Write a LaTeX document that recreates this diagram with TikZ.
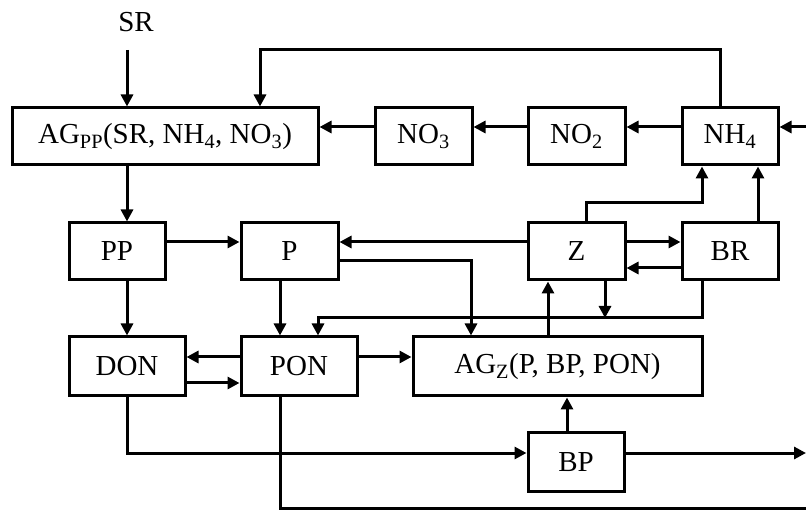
\documentclass[tikz,border=0pt]{standalone}
\usepackage{fontspec}
\setmainfont{Liberation Serif}
\usetikzlibrary{arrows.meta}
\begin{document}
\begin{tikzpicture}[x=1pt,y=-1pt,
  txt/.style={font=\fontsize{29}{32}\selectfont, inner sep=0pt},
  box/.style={draw, line width=3pt, minimum height=57pt, inner sep=0pt, font=\fontsize{29}{32}\selectfont},
  conn/.style={line width=3pt, -{Triangle[length=12pt,width=12pt]}},
  plain/.style={line width=3pt}]
\useasboundingbox (0,0) rectangle (806,510);
% nodes
\node[txt] (SR) at (136,22) {SR};
\node[box, minimum width=306pt] (AGPP) at (165,136.5) {AG\textsubscript{PP}(SR, NH\textsubscript{4}, NO\textsubscript{3})};
\node[box, minimum width=97pt] (NO3) at (423.5,136.5) {NO\textsubscript{3}};
\node[box, minimum width=97pt] (NO2) at (576.5,136.5) {NO\textsubscript{2}};
\node[box, minimum width=96pt] (NH4) at (730,136.5) {NH\textsubscript{4}};
\node[box, minimum width=96pt] (PP) at (117,251.5) {PP};
\node[box, minimum width=97pt] (P) at (289.5,251.5) {P};
\node[box, minimum width=97pt] (Z) at (576.5,251.5) {Z};
\node[box, minimum width=96pt] (BR) at (730,251.5) {BR};
\node[box, minimum width=116pt, minimum height=59pt] (DON) at (127,366.5) {DON};
\node[box, minimum width=116pt, minimum height=59pt] (PON) at (299,366.5) {PON};
\node[box, minimum width=289pt, minimum height=59pt] (AGZ) at (557.5,366.5) {AG\textsubscript{Z}(P, BP, PON)};
\node[box, minimum width=96pt, minimum height=58pt] (BP) at (576,462) {BP};
% helper coordinates
\coordinate (srin) at (127,50);
\coordinate (fbtop) at (720,50);
\coordinate (fbleft) at (260,50);
\coordinate (rin) at (806,127);
\coordinate (rout) at (806,453);
\coordinate (bend) at (806,508);
\coordinate (y127) at (0,127);
\coordinate (y203) at (0,203);
\coordinate (y242) at (0,242);
\coordinate (y261) at (0,261);
\coordinate (y268) at (0,268);
\coordinate (y318) at (0,318);
\coordinate (y357) at (0,357);
\coordinate (y383) at (0,383);
\coordinate (y453) at (0,453);
\coordinate (y508) at (0,508);
\coordinate (x127) at (127,0);
\coordinate (x280) at (280,0);
\coordinate (x318) at (318,0);
\coordinate (x471) at (471,0);
\coordinate (x548) at (548,0);
\coordinate (x567) at (567,0);
\coordinate (x586) at (586,0);
\coordinate (x605) at (605,0);
\coordinate (x702) at (702,0);
\coordinate (x758) at (758,0);
% connectors
\draw[conn] (srin) -- (AGPP.north -| srin);
\draw[conn] (NH4.north -| fbtop) -- (fbtop) -- (fbleft) -- (AGPP.north -| fbleft);
\draw[conn] (NO3.west |- y127) -- (AGPP.east |- y127);
\draw[conn] (NO2.west |- y127) -- (NO3.east |- y127);
\draw[conn] (NH4.west |- y127) -- (NO2.east |- y127);
\draw[conn] (rin) -- (NH4.east |- rin);
\draw[conn] (AGPP.south -| x127) -- (PP.north -| x127);
\draw[conn] (PP.east |- y242) -- (P.west |- y242);
\draw[conn] (Z.west |- y242) -- (P.east |- y242);
\draw[conn] (P.east |- y261) -- (x471 |- y261) -- (AGZ.north -| x471);
\draw[conn] (Z.east |- y242) -- (BR.west |- y242);
\draw[conn] (BR.west |- y268) -- (Z.east |- y268);
\draw[conn] (Z.north -| x586) -- (x586 |- y203) -- (x702 |- y203) -- (NH4.south -| x702);
\draw[conn] (BR.north -| x758) -- (NH4.south -| x758);
\draw[conn] (PP.south -| x127) -- (DON.north);
\draw[conn] (P.south -| x280) -- (PON.north -| x280);
\draw[conn] (BR.south -| x702) -- (x702 |- y318) -- (x318 |- y318) -- (PON.north -| x318);
\draw[conn] (Z.south -| x605) -- (x605 |- y318);
\draw[conn] (PON.west |- y357) -- (DON.east |- y357);
\draw[conn] (DON.east |- y383) -- (PON.west |- y383);
\draw[conn] (PON.east |- y357) -- (AGZ.west |- y357);
\draw[conn] (AGZ.north -| x548) -- (Z.south -| x548);
\draw[conn] (BP.north -| x567) -- (AGZ.south -| x567);
\draw[conn] (DON.south) -- (DON.south |- y453) -- (BP.west |- y453);
\draw[conn] (BP.east |- y453) -- (rout);
\draw[plain] (PON.south -| x280) -- (x280 |- y508) -- (bend);
\end{tikzpicture}
\end{document}
